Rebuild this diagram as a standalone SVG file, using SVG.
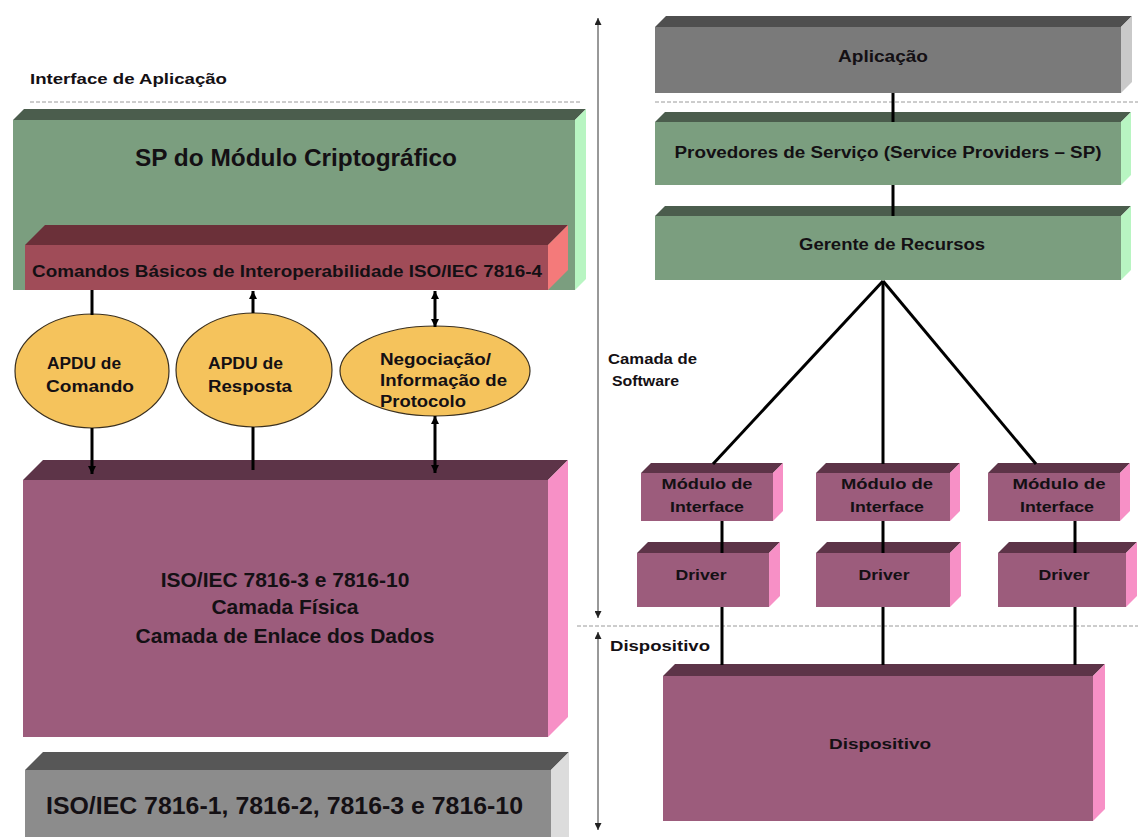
<svg xmlns="http://www.w3.org/2000/svg" width="1138" height="837" viewBox="0 0 1138 837">
  <defs>
    <style>
      .t { font-family: "Liberation Sans", Arial, sans-serif; font-weight: bold; fill: #141014; }
      .c { text-anchor: middle; }
      .conn { stroke: #000; stroke-width: 3; fill: none; }
      .axis { stroke: #333; stroke-width: 1; fill: none; }
      .dash { stroke: #9a9a9a; stroke-width: 1; stroke-dasharray: 4 2; fill: none; }
      .gF { fill: #7b9e7f; } .gT { fill: #4b5d4d; } .gS { fill: #b8f5c2; }
      .rF { fill: #a04c58; } .rT { fill: #6b3039; } .rS { fill: #f47a7a; }
      .pF { fill: #9c5c7c; } .pT { fill: #5d3448; } .pS { fill: #f790c6; }
      .kF { fill: #8c8c8c; } .kT { fill: #575757; } .kS { fill: #dcdcdc; }
      .aF { fill: #7a7a7a; } .aT { fill: #4f4f4f; } .aS { fill: #c9c9c9; }
      .ell { fill: #f5c35c; stroke: #3a3020; stroke-width: 1.2; }
    </style>
    <marker id="ah" viewBox="0 0 10 10" refX="10" refY="5" markerWidth="8" markerHeight="8" markerUnits="userSpaceOnUse" orient="auto-start-reverse">
      <path d="M0,0 L10,5 L0,10 z" fill="#000"/>
    </marker>
    <marker id="ahs" viewBox="0 0 10 10" refX="10" refY="5" markerWidth="7" markerHeight="7" markerUnits="userSpaceOnUse" orient="auto-start-reverse">
      <path d="M0,0 L10,5 L0,10 z" fill="#222"/>
    </marker>
  </defs>

  <rect width="1138" height="837" fill="#ffffff"/>

  <!-- layer guides -->
  <g id="guides">
    <line class="dash" x1="30" y1="102" x2="582" y2="102"/>
    <line class="dash" x1="655" y1="102" x2="1138" y2="102"/>
    <line class="dash" x1="577" y1="626" x2="1138" y2="626"/>
    <line class="axis" x1="598" y1="18" x2="598" y2="618" marker-start="url(#ahs)" marker-end="url(#ahs)"/>
    <line class="axis" x1="598" y1="632" x2="598" y2="830" marker-start="url(#ahs)" marker-end="url(#ahs)"/>
    <text class="t" x="30" y="84" font-size="15" textLength="197" lengthAdjust="spacingAndGlyphs">Interface de Aplicação</text>
    <text class="t" x="608" y="364" font-size="15" textLength="89" lengthAdjust="spacingAndGlyphs">Camada de</text>
    <text class="t" x="612" y="386" font-size="15" textLength="67" lengthAdjust="spacingAndGlyphs">Software</text>
    <text class="t" x="610" y="651" font-size="15" textLength="100" lengthAdjust="spacingAndGlyphs">Dispositivo</text>
  </g>

  <!-- left stack -->
  <g id="sp-modulo">
    <rect class="gF" x="13" y="120" width="562" height="170"/>
    <polygon class="gT" points="13,120 24,109 586,109 575,120"/>
    <polygon class="gS" points="575,120 586,109 586,279 575,290"/>
    <text class="t c" x="296" y="166" font-size="24" textLength="322" lengthAdjust="spacingAndGlyphs">SP do Módulo Criptográfico</text>
  </g>

  <g id="comandos-basicos">
    <rect class="rF" x="25" y="245" width="523" height="45"/>
    <polygon class="rT" points="25,245 45,225 568,225 548,245"/>
    <polygon class="rS" points="548,245 568,225 568,270 548,290"/>
    <text class="t" x="32" y="277" font-size="17" fill="#2a0c10" textLength="510" lengthAdjust="spacingAndGlyphs">Comandos Básicos de Interoperabilidade ISO/IEC 7816-4</text>
  </g>

  <g id="apdu-comando">
    <ellipse class="ell" cx="92" cy="371" rx="77" ry="57"/>
    <text class="t" x="47" y="369" font-size="16" textLength="74" lengthAdjust="spacingAndGlyphs">APDU de</text>
    <text class="t" x="46" y="392" font-size="16" textLength="88" lengthAdjust="spacingAndGlyphs">Comando</text>
  </g>

  <g id="apdu-resposta">
    <ellipse class="ell" cx="254" cy="370" rx="78" ry="57"/>
    <text class="t" x="208" y="369" font-size="16" textLength="75" lengthAdjust="spacingAndGlyphs">APDU de</text>
    <text class="t" x="208" y="392" font-size="16" textLength="84" lengthAdjust="spacingAndGlyphs">Resposta</text>
  </g>

  <g id="negociacao">
    <ellipse class="ell" cx="435" cy="371" rx="95" ry="45"/>
    <text class="t" x="380" y="365" font-size="16" textLength="111" lengthAdjust="spacingAndGlyphs">Negociação/</text>
    <text class="t" x="380" y="386" font-size="16" textLength="127" lengthAdjust="spacingAndGlyphs">Informação de</text>
    <text class="t" x="380" y="407" font-size="16" textLength="86" lengthAdjust="spacingAndGlyphs">Protocolo</text>
  </g>

  <g id="camada-fisica">
    <rect class="pF" x="23" y="480" width="525" height="257"/>
    <polygon class="pT" points="23,480 43,460 568,460 548,480"/>
    <polygon class="pS" points="548,480 568,460 568,717 548,737"/>
    <text class="t c" x="285" y="587" font-size="21">ISO/IEC 7816-3 e 7816-10</text>
    <text class="t c" x="285" y="614" font-size="21">Camada Física</text>
    <text class="t c" x="285" y="643" font-size="21">Camada de Enlace dos Dados</text>
  </g>

  <g id="iso-base">
    <rect class="kF" x="25" y="770" width="526" height="80"/>
    <polygon class="kT" points="25,770 43,752 569,752 551,770"/>
    <polygon class="kS" points="551,770 569,752 569,850 551,850"/>
    <text class="t" x="46" y="814" font-size="23" textLength="477" lengthAdjust="spacingAndGlyphs">ISO/IEC 7816-1, 7816-2, 7816-3 e 7816-10</text>
  </g>

  <!-- right stack -->
  <g id="aplicacao">
    <rect class="aF" x="655" y="27" width="466" height="66"/>
    <polygon class="aT" points="655,27 666,16 1132,16 1121,27"/>
    <polygon class="aS" points="1121,27 1132,16 1132,82 1121,93"/>
    <text class="t c" x="883" y="62" font-size="16" textLength="90" lengthAdjust="spacingAndGlyphs">Aplicação</text>
  </g>

  <g id="provedores">
    <rect class="gF" x="655" y="122" width="466" height="63"/>
    <polygon class="gT" points="655,122 665,112 1131,112 1121,122"/>
    <polygon class="gS" points="1121,122 1131,112 1131,175 1121,185"/>
    <text class="t c" x="888" y="158" font-size="16" textLength="427" lengthAdjust="spacingAndGlyphs">Provedores de Serviço (Service Providers – SP)</text>
  </g>

  <g id="gerente">
    <rect class="gF" x="655" y="216" width="466" height="64"/>
    <polygon class="gT" points="655,216 665,206 1131,206 1121,216"/>
    <polygon class="gS" points="1121,216 1131,206 1131,270 1121,280"/>
    <text class="t c" x="892" y="250" font-size="16" textLength="186" lengthAdjust="spacingAndGlyphs">Gerente de Recursos</text>
  </g>

  <g id="modulo-1">
    <rect class="pF" x="641" y="473" width="132" height="48"/>
    <polygon class="pT" points="641,473 651,463 783,463 773,473"/>
    <polygon class="pS" points="773,473 783,463 783,511 773,521"/>
    <text class="t c" x="707" y="489" font-size="15" textLength="91" lengthAdjust="spacingAndGlyphs">Módulo de</text>
    <text class="t c" x="707" y="512" font-size="15" textLength="74" lengthAdjust="spacingAndGlyphs">Interface</text>
  </g>
  <g id="modulo-2">
    <rect class="pF" x="816" y="473" width="134" height="48"/>
    <polygon class="pT" points="816,473 826,463 960,463 950,473"/>
    <polygon class="pS" points="950,473 960,463 960,511 950,521"/>
    <text class="t c" x="887" y="489" font-size="15" textLength="92" lengthAdjust="spacingAndGlyphs">Módulo de</text>
    <text class="t c" x="887" y="512" font-size="15" textLength="74" lengthAdjust="spacingAndGlyphs">Interface</text>
  </g>
  <g id="modulo-3">
    <rect class="pF" x="988" y="473" width="132" height="48"/>
    <polygon class="pT" points="988,473 998,463 1130,463 1120,473"/>
    <polygon class="pS" points="1120,473 1130,463 1130,511 1120,521"/>
    <text class="t c" x="1059" y="489" font-size="15" textLength="93" lengthAdjust="spacingAndGlyphs">Módulo de</text>
    <text class="t c" x="1057" y="512" font-size="15" textLength="74" lengthAdjust="spacingAndGlyphs">Interface</text>
  </g>

  <g id="driver-1">
    <rect class="pF" x="637" y="553" width="132" height="54"/>
    <polygon class="pT" points="637,553 648,542 780,542 769,553"/>
    <polygon class="pS" points="769,553 780,542 780,596 769,607"/>
    <text class="t c" x="701" y="580" font-size="15" textLength="51" lengthAdjust="spacingAndGlyphs">Driver</text>
  </g>
  <g id="driver-2">
    <rect class="pF" x="816" y="553" width="134" height="54"/>
    <polygon class="pT" points="816,553 827,542 961,542 950,553"/>
    <polygon class="pS" points="950,553 961,542 961,596 950,607"/>
    <text class="t c" x="884" y="580" font-size="15" textLength="51" lengthAdjust="spacingAndGlyphs">Driver</text>
  </g>
  <g id="driver-3">
    <rect class="pF" x="998" y="553" width="128" height="54"/>
    <polygon class="pT" points="998,553 1009,542 1137,542 1126,553"/>
    <polygon class="pS" points="1126,553 1137,542 1137,596 1126,607"/>
    <text class="t c" x="1064" y="580" font-size="15" textLength="51" lengthAdjust="spacingAndGlyphs">Driver</text>
  </g>

  <g id="dispositivo">
    <rect class="pF" x="663" y="676" width="430" height="145"/>
    <polygon class="pT" points="663,676 675,664 1105,664 1093,676"/>
    <polygon class="pS" points="1093,676 1105,664 1105,809 1093,821"/>
    <text class="t c" x="880" y="749" font-size="15" textLength="102" lengthAdjust="spacingAndGlyphs">Dispositivo</text>
  </g>

  <!-- connectors -->
  <g id="connectors">
    <line class="conn" x1="92" y1="290" x2="92" y2="315"/>
    <line class="conn" x1="92" y1="428" x2="92" y2="474" marker-end="url(#ah)"/>
    <line class="conn" x1="253" y1="313" x2="253" y2="291" marker-end="url(#ah)"/>
    <line class="conn" x1="253" y1="427" x2="253" y2="470"/>
    <line class="conn" x1="435" y1="291" x2="435" y2="327" marker-start="url(#ah)" marker-end="url(#ah)"/>
    <line class="conn" x1="435" y1="416" x2="435" y2="473" marker-start="url(#ah)" marker-end="url(#ah)"/>

    <line class="conn" stroke-width="2.5" x1="893" y1="93" x2="893" y2="122"/>
    <line class="conn" stroke-width="2.5" x1="893" y1="185" x2="893" y2="216"/>
    <line class="conn" x1="883" y1="281" x2="713" y2="464"/>
    <line class="conn" x1="883" y1="281" x2="883" y2="464"/>
    <line class="conn" x1="883" y1="281" x2="1036" y2="464"/>
    <line class="conn" x1="722" y1="521" x2="722" y2="553"/>
    <line class="conn" x1="883" y1="521" x2="883" y2="553"/>
    <line class="conn" x1="1075" y1="521" x2="1075" y2="553"/>
    <line class="conn" x1="722" y1="607" x2="722" y2="665"/>
    <line class="conn" x1="883" y1="607" x2="883" y2="665"/>
    <line class="conn" x1="1075" y1="607" x2="1075" y2="665"/>
  </g>
</svg>
